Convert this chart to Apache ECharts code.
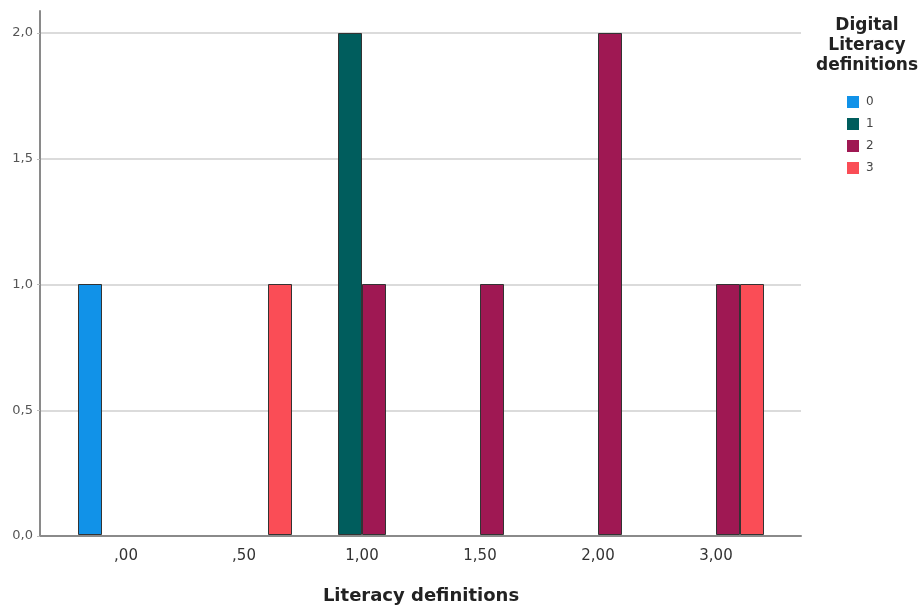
<!DOCTYPE html>
<html>
<head>
<meta charset="utf-8">
<script src="https://cdn.jsdelivr.net/npm/echarts@6/dist/echarts.min.js"></script>
<style>html,body{margin:0;padding:0;background:#fff}#c{width:921px;height:610px}</style>
</head>
<body>
<div id="c"></div>
<script>
const categories = [',00', ',50', '1,00', '1,50', '2,00', '3,00'];
const seriesNames = ['0', '1', '2', '3'];
const s0 = [1, null, null, null, null, null];
const s1 = [null, null, 2, null, null, null];
const s2 = [null, null, 1, 1, 2, 1];
const s3 = [null, 1, null, null, null, 1];
const colors = ['#1192e8', '#005d5d', '#9f1853', '#fa4d56'];
const xTitle = 'Literacy definitions';
const legendTitle = 'Digital\nLiteracy\ndefinitions';

const font = 'DejaVu Sans, sans-serif';
const chart = echarts.init(document.getElementById('c'));
const data = [s0, s1, s2, s3];
chart.setOption({
  animation: false,
  textStyle: { fontFamily: font },
  title: {
    text: legendTitle, left: 867, top: 16, textAlign: 'center', padding: 0,
    textStyle: { fontSize: 17, fontWeight: 'bold', color: '#222', lineHeight: 20, fontFamily: font }
  },
  legend: {
    orient: 'vertical', left: 847, top: 96, padding: 0, itemWidth: 12, itemHeight: 12, itemGap: 10,
    icon: 'rect', data: seriesNames,
    itemStyle: { borderWidth: 0 },
    textStyle: { fontSize: 12, color: '#444', padding: [0, 0, 0, 2] }
  },
  grid: [
    { left: 40, right: 120, top: 11, bottom: 74 },
    { left: 40, right: 120, top: 33, bottom: 74 },
    { left: 67, right: 146, top: 33, bottom: 74 }
  ],
  xAxis: [
    { gridIndex: 0, type: 'value', min: 0, max: 1, axisLine: { show: true, onZero: false, lineStyle: { color: '#8a8a8a', width: 2 } }, axisTick: { show: false }, axisLabel: { show: false }, splitLine: { show: false } },
    { gridIndex: 1, type: 'value', min: 0, max: 1, show: false },
    { gridIndex: 2, type: 'category', data: categories, axisLine: { show: false }, axisTick: { show: false },
      axisLabel: { fontSize: 15, color: '#333', margin: 14 },
      name: xTitle, nameLocation: 'middle', nameGap: 52,
      nameTextStyle: { fontSize: 18, fontWeight: 'bold', color: '#222' } }
  ],
  yAxis: [
    { gridIndex: 0, type: 'value', min: 0, max: 1, axisLine: { show: true, onZero: false, lineStyle: { color: '#8a8a8a', width: 2 } }, axisTick: { show: false }, axisLabel: { show: false }, splitLine: { show: false } },
    { gridIndex: 1, type: 'value', min: 0, max: 2, interval: 0.5,
      axisLine: { show: false }, axisTick: { show: true, length: 3, lineStyle: { color: '#bbb' } },
      axisLabel: { fontSize: 13, color: '#555', margin: 7, formatter: v => v.toFixed(1).replace('.', ',') },
      splitLine: { show: true, lineStyle: { color: '#cfcfcf', width: 1.5 } } },
    { gridIndex: 2, type: 'value', min: 0, max: 2, show: false }
  ],
  series: seriesNames.map((n, i) => ({
    name: n, type: 'bar', xAxisIndex: 2, yAxisIndex: 2,
    data: data[i], barWidth: 24, barGap: '0%',
    itemStyle: { color: colors[i], borderColor: '#333', borderWidth: 1 }
  }))
});
</script>
</body>
</html>
